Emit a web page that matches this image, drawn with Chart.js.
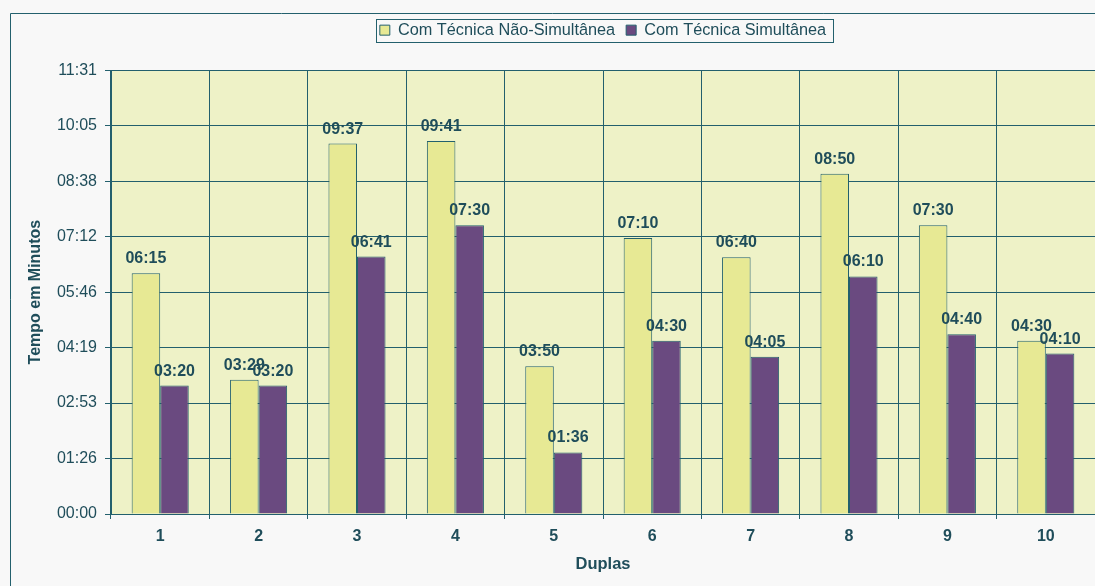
<!DOCTYPE html>
<html>
<head>
<meta charset="utf-8">
<script src="https://cdn.jsdelivr.net/npm/chart.js@4"></script>
<style>
  html, body { margin: 0; padding: 0; background: #f8f8f8; }
  #wrap { width: 1095px; height: 586px; position: relative; }
</style>
</head>
<body>
<div id="wrap"><canvas id="c" width="1095" height="586"></canvas></div>
<script>
// Pairs (Duplas) and times in seconds
const duplas = ['1', '2', '3', '4', '5', '6', '7', '8', '9', '10'];
const naoSimultanea = [375, 209, 577, 581, 230, 430, 400, 530, 450, 270];
const simultanea    = [200, 200, 401, 450,  96, 270, 245, 370, 280, 250];
const seriesNames = ['Com Técnica Não-Simultânea', 'Com Técnica Simultânea'];
const yTickLabels = ['00:00', '01:26', '02:53', '04:19', '05:46', '07:12', '08:38', '10:05', '11:31'];
const yStep = 86.4;   // 0.001 day
const yMax = 691.2;   // 0.008 day

const ink = '#1f4d5a';
const gridColor = '#23606d';
const plotBg = '#eef2c7';
const yellow = '#e7e994';
const purple = '#6a4a80';
const font = "'Liberation Sans', Arial, sans-serif";

function mmss(sec) {
  const s = Math.round(sec);
  const m = Math.floor(s / 60), r = s % 60;
  return String(m).padStart(2, '0') + ':' + String(r).padStart(2, '0');
}

const decor = {
  id: 'decor',
  beforeLayout(chart) {
    // leave a gap between the legend and the plot area
    const lg = chart.legend;
    if (lg && !lg._gapPatched) {
      const fit = lg.fit;
      lg.fit = function () { fit.call(this); this.height += 22; };
      lg._gapPatched = true;
    }
  },
  beforeDraw(chart) {
    const { ctx, chartArea: a } = chart;
    ctx.save();
    ctx.fillStyle = '#f8f8f8';
    ctx.fillRect(0, 0, chart.width, chart.height);
    ctx.fillStyle = plotBg;
    ctx.fillRect(a.left, a.top, a.right - a.left, a.bottom - a.top);
    // outer frame
    ctx.strokeStyle = gridColor;
    ctx.lineWidth = 1;
    ctx.beginPath();
    ctx.moveTo(10.5, chart.height);
    ctx.lineTo(10.5, 13.5);
    ctx.lineTo(chart.width, 13.5);
    ctx.stroke();
    ctx.restore();
  },
  afterDraw(chart) {
    const lg = chart.legend;
    if (!lg || !lg.legendHitBoxes || !lg.legendHitBoxes.length) return;
    const boxes = lg.legendHitBoxes;
    const x0 = Math.min(...boxes.map(b => b.left)) - 4;
    const x1 = Math.max(...boxes.map(b => b.left + b.width)) + 7;
    const y0 = Math.min(...boxes.map(b => b.top)) - 3;
    const y1 = Math.max(...boxes.map(b => b.top + b.height)) + 4;
    const ctx = chart.ctx;
    ctx.save();
    ctx.strokeStyle = gridColor;
    ctx.lineWidth = 1;
    ctx.strokeRect(Math.round(x0) + 0.5, Math.round(y0) + 0.5, Math.round(x1 - x0), Math.round(y1 - y0));
    ctx.restore();
  },
  afterDatasetsDraw(chart) {
    const ctx = chart.ctx;
    ctx.save();
    ctx.font = 'bold 16px ' + font;
    ctx.fillStyle = ink;
    ctx.textAlign = 'center';
    ctx.textBaseline = 'alphabetic';
    chart.data.datasets.forEach((ds, i) => {
      chart.getDatasetMeta(i).data.forEach((el, j) => {
        ctx.fillText(mmss(ds.data[j]), el.x, el.y - 10);
      });
    });
    ctx.restore();
  }
};

new Chart(document.getElementById('c'), {
  type: 'bar',
  data: {
    labels: duplas,
    datasets: [
      { label: seriesNames[0], data: naoSimultanea, backgroundColor: yellow, borderColor: gridColor, borderWidth: 1 },
      { label: seriesNames[1], data: simultanea, backgroundColor: purple, borderColor: gridColor, borderWidth: 1 }
    ]
  },
  options: {
    responsive: false,
    animation: false,
    devicePixelRatio: 1,
    layout: { padding: { left: 20, right: 0, top: 11, bottom: 3 } },
    datasets: { bar: { categoryPercentage: 0.58, barPercentage: 1.0 } },
    plugins: {
      tooltip: { enabled: false },
      legend: {
        position: 'top',
        fullSize: false,
        labels: {
          color: ink,
          font: { family: font, size: 16.3 },
          boxWidth: 10, boxHeight: 10,
          padding: 11
        }
      }
    },
    scales: {
      x: {
        offset: true,
        grid: { offset: true, color: gridColor, drawTicks: true, tickLength: 5 },
        border: { color: gridColor },
        ticks: { color: ink, font: { family: font, size: 16, weight: 'bold' }, padding: 8 },
        title: { display: true, text: 'Duplas', color: ink, font: { family: font, size: 16.5, weight: 'bold' }, padding: { top: 0, bottom: 9 } }
      },
      y: {
        min: 0, max: yMax,
        afterFit(scale) { scale.width = 91; },
        afterBuildTicks(scale) {
          scale.ticks = yTickLabels.map((_, i) => ({ value: +(i * yStep).toFixed(1) }));
        },
        grid: { color: gridColor, tickLength: 6 },
        border: { color: gridColor },
        ticks: {
          color: ink, font: { family: font, size: 16 }, padding: 8,
          callback: (v, i) => yTickLabels[i]
        },
        title: { display: true, text: 'Tempo em Minutos', color: ink, font: { family: font, size: 16, weight: 'bold' }, padding: { top: 6, bottom: 6 } }
      }
    }
  },
  plugins: [decor]
});
</script>
</body>
</html>
